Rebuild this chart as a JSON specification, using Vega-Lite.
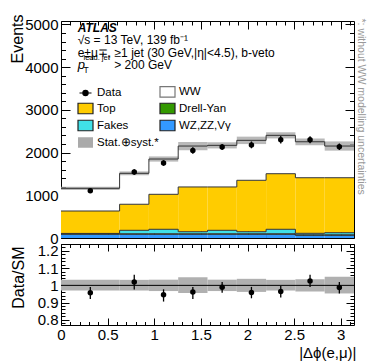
{
  "$schema": "https://vega.github.io/schema/vega-lite/v6.json",
  "autosize": "pad",
  "padding": {"left": 8, "top": 13, "right": 5, "bottom": 4},
  "background": "white",
  "spacing": 6,
  "bounds": "flush",
  "config": {
    "view": {"stroke": "black", "strokeWidth": 1},
    "font": "Liberation Sans",
    "axis": {
      "domain": false, "grid": false, "tickColor": "black", "tickWidth": 1,
      "labelColor": "black", "labelFont": "Liberation Sans", "labelFontSize": 15,
      "titleFont": "Liberation Sans", "titleFontSize": 16, "titleFontWeight": "normal", "titleColor": "black",
      "labelFlush": false, "labelOverlap": false
    }
  },
  "datasets": {
    "stack": [
      {"process": "WZ,ZZ,Vγ", "ord": 1, "lo": 0, "hi": 0.6283, "n": 87},
      {"process": "WZ,ZZ,Vγ", "ord": 1, "lo": 0.6283, "hi": 0.9425, "n": 87},
      {"process": "WZ,ZZ,Vγ", "ord": 1, "lo": 0.9425, "hi": 1.2566, "n": 87},
      {"process": "WZ,ZZ,Vγ", "ord": 1, "lo": 1.2566, "hi": 1.5708, "n": 87},
      {"process": "WZ,ZZ,Vγ", "ord": 1, "lo": 1.5708, "hi": 1.885, "n": 87},
      {"process": "WZ,ZZ,Vγ", "ord": 1, "lo": 1.885, "hi": 2.1991, "n": 87},
      {"process": "WZ,ZZ,Vγ", "ord": 1, "lo": 2.1991, "hi": 2.5133, "n": 87},
      {"process": "WZ,ZZ,Vγ", "ord": 1, "lo": 2.5133, "hi": 2.8274, "n": 63},
      {"process": "WZ,ZZ,Vγ", "ord": 1, "lo": 2.8274, "hi": 3.1416, "n": 63},
      {"process": "Drell-Yan", "ord": 2, "lo": 0, "hi": 0.6283, "n": 12},
      {"process": "Drell-Yan", "ord": 2, "lo": 0.6283, "hi": 0.9425, "n": 12},
      {"process": "Drell-Yan", "ord": 2, "lo": 0.9425, "hi": 1.2566, "n": 12},
      {"process": "Drell-Yan", "ord": 2, "lo": 1.2566, "hi": 1.5708, "n": 12},
      {"process": "Drell-Yan", "ord": 2, "lo": 1.5708, "hi": 1.885, "n": 12},
      {"process": "Drell-Yan", "ord": 2, "lo": 1.885, "hi": 2.1991, "n": 12},
      {"process": "Drell-Yan", "ord": 2, "lo": 2.1991, "hi": 2.5133, "n": 12},
      {"process": "Drell-Yan", "ord": 2, "lo": 2.5133, "hi": 2.8274, "n": 12},
      {"process": "Drell-Yan", "ord": 2, "lo": 2.8274, "hi": 3.1416, "n": 12},
      {"process": "Fakes", "ord": 3, "lo": 0, "hi": 0.6283, "n": 8},
      {"process": "Fakes", "ord": 3, "lo": 0.6283, "hi": 0.9425, "n": 81},
      {"process": "Fakes", "ord": 3, "lo": 0.9425, "hi": 1.2566, "n": 105},
      {"process": "Fakes", "ord": 3, "lo": 1.2566, "hi": 1.5708, "n": 48},
      {"process": "Fakes", "ord": 3, "lo": 1.5708, "hi": 1.885, "n": 81},
      {"process": "Fakes", "ord": 3, "lo": 1.885, "hi": 2.1991, "n": 48},
      {"process": "Fakes", "ord": 3, "lo": 2.1991, "hi": 2.5133, "n": 105},
      {"process": "Fakes", "ord": 3, "lo": 2.5133, "hi": 2.8274, "n": 35},
      {"process": "Fakes", "ord": 3, "lo": 2.8274, "hi": 3.1416, "n": 49},
      {"process": "Top", "ord": 4, "lo": 0, "hi": 0.6283, "n": 525},
      {"process": "Top", "ord": 4, "lo": 0.6283, "hi": 0.9425, "n": 610},
      {"process": "Top", "ord": 4, "lo": 0.9425, "hi": 1.2566, "n": 819},
      {"process": "Top", "ord": 4, "lo": 1.2566, "hi": 1.5708, "n": 1048},
      {"process": "Top", "ord": 4, "lo": 1.5708, "hi": 1.885, "n": 1015},
      {"process": "Top", "ord": 4, "lo": 1.885, "hi": 2.1991, "n": 1204},
      {"process": "Top", "ord": 4, "lo": 2.1991, "hi": 2.5133, "n": 1301},
      {"process": "Top", "ord": 4, "lo": 2.5133, "hi": 2.8274, "n": 1301},
      {"process": "Top", "ord": 4, "lo": 2.8274, "hi": 3.1416, "n": 1287},
      {"process": "WW", "ord": 5, "lo": 0, "hi": 0.6283, "n": 531},
      {"process": "WW", "ord": 5, "lo": 0.6283, "hi": 0.9425, "n": 724},
      {"process": "WW", "ord": 5, "lo": 0.9425, "hi": 1.2566, "n": 826},
      {"process": "WW", "ord": 5, "lo": 1.2566, "hi": 1.5708, "n": 958},
      {"process": "WW", "ord": 5, "lo": 1.5708, "hi": 1.885, "n": 974},
      {"process": "WW", "ord": 5, "lo": 1.885, "hi": 2.1991, "n": 935},
      {"process": "WW", "ord": 5, "lo": 2.1991, "hi": 2.5133, "n": 898},
      {"process": "WW", "ord": 5, "lo": 2.5133, "hi": 2.8274, "n": 842},
      {"process": "WW", "ord": 5, "lo": 2.8274, "hi": 3.1416, "n": 742}
    ],
    "bins": [
      {"lo": 0, "hi": 0.6283, "c": 0.3142, "data": 1105, "d_lo": 1064, "d_hi": 1146, "b_lo": 1126, "b_hi": 1200, "ratio": 0.957, "r_lo": 0.921, "r_hi": 0.991, "rb_lo": 0.97, "rb_hi": 1.032},
      {"lo": 0.6283, "hi": 0.9425, "c": 0.7854, "data": 1544, "d_lo": 1479, "d_hi": 1609, "b_lo": 1469, "b_hi": 1559, "ratio": 1.019, "r_lo": 0.976, "r_hi": 1.062, "rb_lo": 0.97, "rb_hi": 1.032},
      {"lo": 0.9425, "hi": 1.2566, "c": 1.0996, "data": 1755, "d_lo": 1690, "d_hi": 1820, "b_lo": 1788, "b_hi": 1910, "ratio": 0.946, "r_lo": 0.906, "r_hi": 0.977, "rb_lo": 0.967, "rb_hi": 1.033},
      {"lo": 1.2566, "hi": 1.5708, "c": 1.4137, "data": 2050, "d_lo": 1975, "d_hi": 2125, "b_lo": 2056, "b_hi": 2250, "ratio": 0.961, "r_lo": 0.921, "r_hi": 0.991, "rb_lo": 0.955, "rb_hi": 1.047},
      {"lo": 1.5708, "hi": 1.885, "c": 1.7279, "data": 2128, "d_lo": 2058, "d_hi": 2198, "b_lo": 2097, "b_hi": 2241, "ratio": 0.989, "r_lo": 0.957, "r_hi": 1.019, "rb_lo": 0.967, "rb_hi": 1.033},
      {"lo": 1.885, "hi": 2.1991, "c": 2.042, "data": 2180, "d_lo": 2100, "d_hi": 2260, "b_lo": 2199, "b_hi": 2373, "ratio": 0.959, "r_lo": 0.925, "r_hi": 0.991, "rb_lo": 0.962, "rb_hi": 1.038},
      {"lo": 2.1991, "hi": 2.5133, "c": 2.3562, "data": 2300, "d_lo": 2215, "d_hi": 2385, "b_lo": 2331, "b_hi": 2475, "ratio": 0.964, "r_lo": 0.929, "r_hi": 0.996, "rb_lo": 0.97, "rb_hi": 1.032},
      {"lo": 2.5133, "hi": 2.8274, "c": 2.6704, "data": 2300, "d_lo": 2220, "d_hi": 2380, "b_lo": 2174, "b_hi": 2332, "ratio": 1.026, "r_lo": 0.991, "r_hi": 1.062, "rb_lo": 0.964, "rb_hi": 1.036},
      {"lo": 2.8274, "hi": 3.1416, "c": 2.9845, "data": 2135, "d_lo": 2060, "d_hi": 2210, "b_lo": 2045, "b_hi": 2261, "ratio": 0.987, "r_lo": 0.953, "r_hi": 1.019, "rb_lo": 0.953, "rb_hi": 1.05}
    ]
  },
  "vconcat": [
    {
      "width": 293,
      "height": 217,
      "resolve": {"axis": {"x": "independent", "y": "independent"}},
      "layer": [
        {
          "data": {"name": "stack"},
          "transform": [{"stack": "n", "groupby": ["lo"], "sort": [{"field": "ord", "order": "ascending"}], "as": ["y0", "y1"]}],
          "mark": {"type": "rect"},
          "encoding": {
            "x": {"field": "lo", "type": "quantitative", "scale": {"domain": [0, 3.1416], "nice": false, "zero": false},
              "axis": {"orient": "bottom", "labels": false, "title": null,
                "values": [0,0.1,0.2,0.3,0.4,0.5,0.6,0.7,0.8,0.9,1,1.1,1.2,1.3,1.4,1.5,1.6,1.7,1.8,1.9,2,2.1,2.2,2.3,2.4,2.5,2.6,2.7,2.8,2.9,3,3.1],
                "tickSize": {"condition": {"test": "abs(datum.value*2 - round(datum.value*2)) < 0.001", "value": -8}, "value": -4}}},
            "x2": {"field": "hi"},
            "y": {"field": "y0", "type": "quantitative", "scale": {"domain": [0, 5080], "nice": false},
              "axis": {"orient": "left",
                "values": [0,200,400,600,800,1000,1200,1400,1600,1800,2000,2200,2400,2600,2800,3000,3200,3400,3600,3800,4000,4200,4400,4600,4800,5000],
                "tickSize": {"condition": {"test": "datum.value % 1000 === 0", "value": -9}, "value": -4.5},
                "labelExpr": "datum.value % 1000 === 0 ? datum.label : ''",
                "format": "d", "labelPadding": 12,
                "title": "Events", "titleAngle": -90, "titleAlign": "right", "titleBaseline": "alphabetic",
                "titleX": -39, "titleY": -7}},
            "y2": {"field": "y1"},
            "color": {"field": "process", "type": "nominal",
              "scale": {"domain": ["Data", "Top", "Fakes", "Stat.⊕syst.*", "WW", "Drell-Yan", "WZ,ZZ,Vγ"],
                        "range": ["#000000", "#ffcc00", "#40e0e8", "#aaaaaa", "#ffffff", "#339900", "#3399ff"]},
              "legend": {"orient": "none", "legendX": 16, "legendY": 62, "columns": 2, "title": null,
                "symbolSize": 225, "labelFontSize": 11.5, "labelFont": "Liberation Sans", "labelColor": "black",
                "labelOffset": 3, "rowPadding": -1.7, "columnPadding": -4,
                "encode": {"symbols": {"update": {
                  "shape": {"signal": "datum.value === 'Data' ? 'M-0.8,0H0.8M-0.35,0A0.35,0.35,0,1,1,0.35,0A0.35,0.35,0,1,1,-0.35,0Z' : 'M-1,-0.7H1V0.7H-1Z'"},
                  "stroke": {"signal": "datum.value === 'Data' ? '#000000' : datum.value === 'WW' ? '#777777' : datum.value === 'Stat.⊕syst.*' ? 'transparent' : '#222222'"},
                  "strokeWidth": {"value": 1.2},
                  "opacity": {"value": 1}
                }}}}
            }
          }
        },
        {
          "data": {"name": "bins"},
          "mark": {"type": "rect", "color": "#a8a8a8", "opacity": 0.8},
          "encoding": {
            "x": {"field": "lo", "type": "quantitative",
              "axis": {"orient": "top", "labels": false, "title": null,
                "values": [0,0.1,0.2,0.3,0.4,0.5,0.6,0.7,0.8,0.9,1,1.1,1.2,1.3,1.4,1.5,1.6,1.7,1.8,1.9,2,2.1,2.2,2.3,2.4,2.5,2.6,2.7,2.8,2.9,3,3.1],
                "tickSize": {"condition": {"test": "abs(datum.value*2 - round(datum.value*2)) < 0.001", "value": -8}, "value": -4}}},
            "x2": {"field": "hi"},
            "y": {"field": "b_lo", "type": "quantitative",
              "axis": {"orient": "right", "labels": false,
                "values": [0,200,400,600,800,1000,1200,1400,1600,1800,2000,2200,2400,2600,2800,3000,3200,3400,3600,3800,4000,4200,4400,4600,4800,5000],
                "tickSize": {"condition": {"test": "datum.value % 1000 === 0", "value": -9}, "value": -4.5},
                "title": "*: without WW modelling uncertainties", "titleColor": "#999999", "titleFontSize": 10.5,
                "titleAngle": 90, "titleAlign": "left", "titleBaseline": "alphabetic", "titleX": 3, "titleY": -3}},
            "y2": {"field": "b_hi"}
          }
        },
        {
          "data": {"name": "stack"},
          "transform": [{"stack": "n", "groupby": ["lo"], "sort": [{"field": "ord", "order": "ascending"}], "as": ["y0", "y1"]}],
          "mark": {"type": "rule", "color": "#333333", "strokeWidth": 1},
          "encoding": {
            "x": {"field": "lo", "type": "quantitative", "axis": null},
            "x2": {"field": "hi"},
            "y": {"field": "y1", "type": "quantitative", "axis": null}
          }
        },
        {
          "data": {"name": "stack"},
          "transform": [
            {"stack": "n", "groupby": ["lo"], "sort": [{"field": "ord", "order": "ascending"}], "as": ["y0", "y1"]},
            {"window": [{"op": "lag", "field": "y1", "as": "prev"}], "groupby": ["process"], "sort": [{"field": "lo", "order": "ascending"}]},
            {"filter": "datum.prev != null"}
          ],
          "mark": {"type": "rule", "color": "#333333", "strokeWidth": 1},
          "encoding": {
            "x": {"field": "lo", "type": "quantitative", "axis": null},
            "y": {"field": "prev", "type": "quantitative", "axis": null},
            "y2": {"field": "y1"}
          }
        },
        {
          "data": {"name": "bins"},
          "mark": {"type": "rule", "color": "black", "strokeWidth": 1.3},
          "encoding": {
            "x": {"field": "c", "type": "quantitative", "axis": null},
            "y": {"field": "d_lo", "type": "quantitative", "axis": null},
            "y2": {"field": "d_hi"}
          }
        },
        {
          "data": {"name": "bins"},
          "mark": {"type": "point", "filled": true, "color": "black", "opacity": 1, "size": 30},
          "encoding": {
            "x": {"field": "c", "type": "quantitative", "axis": null},
            "y": {"field": "data", "type": "quantitative", "axis": null}
          }
        },
        {
          "data": {"values": [{}]},
          "mark": {"type": "text", "text": "ATLAS", "fontSize": 12, "fontWeight": "bold", "fontStyle": "italic", "align": "left", "baseline": "alphabetic", "color": "black"},
          "encoding": {"x": {"datum": 0.179, "type": "quantitative", "axis": null}, "y": {"datum": 4822, "type": "quantitative", "axis": null}}
        },
        {
          "data": {"values": [{}]},
          "mark": {"type": "text", "text": "√s = 13 TeV, 139 fb⁻¹", "fontSize": 12, "align": "left", "baseline": "alphabetic", "color": "black"},
          "encoding": {"x": {"datum": 0.179, "type": "quantitative", "axis": null}, "y": {"datum": 4530, "type": "quantitative", "axis": null}}
        },
        {
          "data": {"values": [{}]},
          "mark": {"type": "text", "text": "e±μ∓, ≥1 jet (30 GeV,|η|<4.5), b-veto", "fontSize": 12, "align": "left", "baseline": "alphabetic", "color": "black"},
          "encoding": {"x": {"datum": 0.179, "type": "quantitative", "axis": null}, "y": {"datum": 4226, "type": "quantitative", "axis": null}}
        },
        {
          "data": {"values": [{}]},
          "mark": {"type": "text", "text": "p", "fontSize": 13, "fontStyle": "italic", "align": "left", "baseline": "alphabetic", "color": "black"},
          "encoding": {"x": {"datum": 0.179, "type": "quantitative", "axis": null}, "y": {"datum": 3956, "type": "quantitative", "axis": null}}
        },
        {
          "data": {"values": [{}]},
          "mark": {"type": "text", "text": "lead. jet", "fontSize": 7.5, "align": "left", "baseline": "alphabetic", "color": "black"},
          "encoding": {"x": {"datum": 0.241, "type": "quantitative", "axis": null}, "y": {"datum": 4170, "type": "quantitative", "axis": null}}
        },
        {
          "data": {"values": [{}]},
          "mark": {"type": "text", "text": "T", "fontSize": 8.5, "align": "left", "baseline": "alphabetic", "color": "black"},
          "encoding": {"x": {"datum": 0.241, "type": "quantitative", "axis": null}, "y": {"datum": 3874, "type": "quantitative", "axis": null}}
        },
        {
          "data": {"values": [{}]},
          "mark": {"type": "text", "text": "> 200 GeV", "fontSize": 12, "align": "left", "baseline": "alphabetic", "color": "black"},
          "encoding": {"x": {"datum": 0.571, "type": "quantitative", "axis": null}, "y": {"datum": 3956, "type": "quantitative", "axis": null}}
        }
      ]
    },
    {
      "width": 293,
      "height": 81,
      "resolve": {"axis": {"x": "independent", "y": "independent"}},
      "layer": [
        {
          "data": {"name": "bins"},
          "mark": {"type": "rect", "color": "#b0b0b0", "opacity": 1},
          "encoding": {
            "x": {"field": "lo", "type": "quantitative", "scale": {"domain": [0, 3.1416], "nice": false, "zero": false},
              "axis": {"orient": "bottom", "format": "~g",
                "values": [0,0.1,0.2,0.3,0.4,0.5,0.6,0.7,0.8,0.9,1,1.1,1.2,1.3,1.4,1.5,1.6,1.7,1.8,1.9,2,2.1,2.2,2.3,2.4,2.5,2.6,2.7,2.8,2.9,3,3.1],
                "tickSize": {"condition": {"test": "abs(datum.value*2 - round(datum.value*2)) < 0.001", "value": -7}, "value": -3.5},
                "labelExpr": "abs(datum.value*2 - round(datum.value*2)) < 0.001 ? datum.label : ''",
                "labelPadding": 9,
                "title": "|Δϕ(e,μ)|", "titleFontSize": 15, "titleAlign": "right", "titleBaseline": "alphabetic", "titleX": 295, "titleY": 32}},
            "x2": {"field": "hi"},
            "y": {"field": "rb_lo", "type": "quantitative", "scale": {"domain": [0.77, 1.24], "nice": false, "zero": false},
              "axis": {"orient": "left", "format": "~g",
                "values": [0.78,0.8,0.82,0.84,0.86,0.88,0.9,0.92,0.94,0.96,0.98,1,1.02,1.04,1.06,1.08,1.1,1.12,1.14,1.16,1.18,1.2,1.22,1.24],
                "tickSize": {"condition": {"test": "abs(datum.value*10 - round(datum.value*10)) < 0.001", "value": -8}, "value": -4},
                "labelExpr": "abs(datum.value*10 - round(datum.value*10)) < 0.001 ? datum.label : ''",
                "labelPadding": 11,
                "title": "Data/SM", "titleAngle": -90, "titleAlign": "right", "titleBaseline": "alphabetic",
                "titleX": -38, "titleY": 2}},
            "y2": {"field": "rb_hi"}
          }
        },
        {
          "data": {"values": [{}]},
          "mark": {"type": "rule", "color": "black", "strokeWidth": 1},
          "encoding": {
            "x": {"datum": 0, "type": "quantitative",
              "axis": {"orient": "top", "labels": false, "title": null,
                "values": [0,0.1,0.2,0.3,0.4,0.5,0.6,0.7,0.8,0.9,1,1.1,1.2,1.3,1.4,1.5,1.6,1.7,1.8,1.9,2,2.1,2.2,2.3,2.4,2.5,2.6,2.7,2.8,2.9,3,3.1],
                "tickSize": {"condition": {"test": "abs(datum.value*2 - round(datum.value*2)) < 0.001", "value": -7}, "value": -3.5}}},
            "x2": {"datum": 3.1416},
            "y": {"datum": 1, "type": "quantitative",
              "axis": {"orient": "right", "labels": false, "title": null,
                "values": [0.78,0.8,0.82,0.84,0.86,0.88,0.9,0.92,0.94,0.96,0.98,1,1.02,1.04,1.06,1.08,1.1,1.12,1.14,1.16,1.18,1.2,1.22,1.24],
                "tickSize": {"condition": {"test": "abs(datum.value*10 - round(datum.value*10)) < 0.001", "value": -8}, "value": -4}}}
          }
        },
        {
          "data": {"name": "bins"},
          "mark": {"type": "rule", "color": "black", "strokeWidth": 1.3},
          "encoding": {
            "x": {"field": "c", "type": "quantitative", "axis": null},
            "y": {"field": "r_lo", "type": "quantitative", "axis": null},
            "y2": {"field": "r_hi"}
          }
        },
        {
          "data": {"name": "bins"},
          "mark": {"type": "point", "filled": true, "color": "black", "opacity": 1, "size": 30},
          "encoding": {
            "x": {"field": "c", "type": "quantitative", "axis": null},
            "y": {"field": "ratio", "type": "quantitative", "axis": null}
          }
        }
      ]
    }
  ]
}
